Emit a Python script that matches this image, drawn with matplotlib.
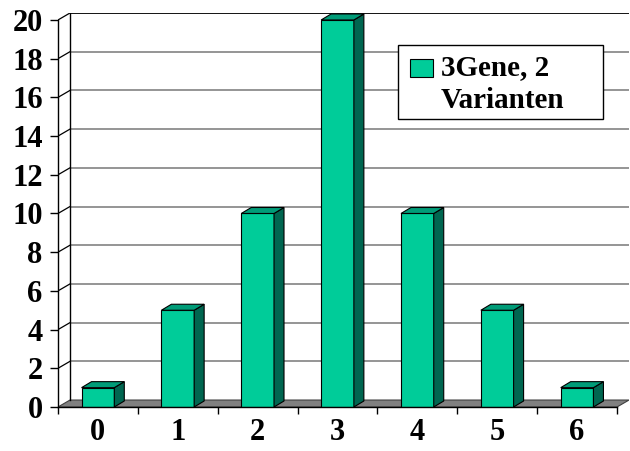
import matplotlib
matplotlib.use("Agg")
import matplotlib.pyplot as plt
from matplotlib.patches import Polygon, Rectangle

# counts per number of dominant alleles
categories = ["0", "1", "2", "3", "4", "5", "6"]
counts = [1, 5, 10, 20, 10, 5, 1]
y_ticks = list(range(0, 21, 2))
series_name = "3Gene, 2\nVarianten"

front_col = "#00CC99"
top_col = "#009C78"
side_col = "#006650"
floor_col = "#808080"
grid_col = "#8C8C8C"

plt.rcParams["font.family"] = ["Liberation Serif", "DejaVu Serif"]
plt.rcParams["font.weight"] = "bold"

fig = plt.figure(figsize=(6.3, 4.51), dpi=100)
ax = fig.add_axes([58 / 630, 44 / 451, 571 / 630, 394 / 451])

n = len(categories)
x0, x1 = -0.5, n - 0.5
wall_dx, wall_dy = 0.15, 0.36      # depth of back wall
bar_w = 0.41
bar_dx, bar_dy = 0.125, 0.31       # depth of each bar

ax.set_xlim(x0, x1 + wall_dx)
ax.set_ylim(0, 20 + wall_dy)

# floor
ax.add_patch(Polygon([(x0, 0), (x1, 0), (x1 + wall_dx, wall_dy), (x0 + wall_dx, wall_dy)],
                     closed=True, facecolor=floor_col, edgecolor="#404040", lw=0.8, zorder=1))

# back wall gridlines and side wall diagonals
for t in y_ticks[1:]:
    col = "black" if t == y_ticks[-1] else grid_col
    ax.plot([x0 + wall_dx, x1 + wall_dx], [t + wall_dy, t + wall_dy], color=col,
            lw=1.3, zorder=1, solid_capstyle="butt")
    ax.plot([x0, x0 + wall_dx], [t, t + wall_dy], color="black", lw=0.9, zorder=1)
ax.plot([x0 + wall_dx, x0 + wall_dx], [wall_dy, y_ticks[-1] + wall_dy], color="black", lw=1.0, zorder=1)

# 3d-looking bars
for i, v in enumerate(counts):
    l, r = i - bar_w / 2, i + bar_w / 2
    ax.bar(i, v, width=bar_w, color=front_col, edgecolor="black", linewidth=0.8, zorder=3)
    ax.add_patch(Polygon([(r, 0), (r + bar_dx, bar_dy), (r + bar_dx, v + bar_dy), (r, v)],
                         closed=True, facecolor=side_col, edgecolor="black", lw=0.8, zorder=3))
    ax.add_patch(Polygon([(l, v), (r, v), (r + bar_dx, v + bar_dy), (l + bar_dx, v + bar_dy)],
                         closed=True, facecolor=top_col, edgecolor="black", lw=0.8, zorder=3))

# front axes
for s in ["top", "right"]:
    ax.spines[s].set_visible(False)
ax.spines["left"].set_bounds(0, y_ticks[-1])
ax.spines["bottom"].set_bounds(x0, x1)
ax.spines["left"].set_linewidth(1.0)
ax.spines["bottom"].set_linewidth(1.0)
ax.spines["left"].set_zorder(4)
ax.spines["bottom"].set_zorder(4)

ax.set_yticks(y_ticks)
ax.set_yticklabels([str(t) for t in y_ticks], fontsize=22, fontweight="bold")
ax.tick_params(axis="y", direction="out", length=6, width=1.0, pad=5)

ax.set_xticks(range(n))
ax.set_xticklabels(categories, fontsize=22, fontweight="bold")
ax.set_xticks([x0 + k for k in range(n + 1)], minor=True)
ax.tick_params(axis="x", which="major", length=0, pad=8)
ax.tick_params(axis="x", which="minor", direction="out", length=5, width=1.0)

# legend box
fig.add_artist(Rectangle((398 / 630, 1 - 119 / 451), 205 / 630, 74 / 451,
                         transform=fig.transFigure, facecolor="white", edgecolor="black", lw=1.0, zorder=5))
fig.add_artist(Rectangle((410 / 630, 1 - 77 / 451), 23 / 630, 18 / 451,
                         transform=fig.transFigure, facecolor=front_col, edgecolor="black", lw=0.8, zorder=6))
line1, line2 = series_name.split("\n")
fig.text(441 / 630, 1 - 68 / 451, line1, fontsize=21, fontweight="bold", va="center", ha="left", zorder=6)
fig.text(441 / 630, 1 - 101 / 451, line2, fontsize=21, fontweight="bold", va="center", ha="left", zorder=6)

fig.savefig("out.png", dpi=100)
